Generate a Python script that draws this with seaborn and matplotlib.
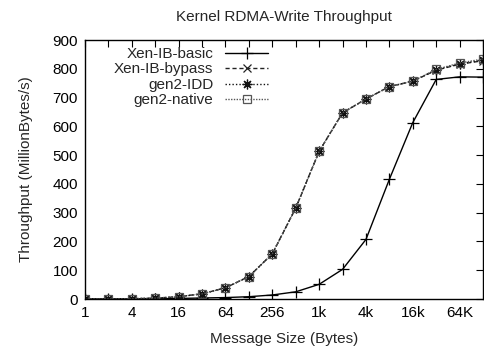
import matplotlib
matplotlib.use("Agg")
import matplotlib.pyplot as plt
import seaborn as sns
import pandas as pd
from matplotlib.ticker import FixedLocator, FixedFormatter, NullLocator

sizes = [1, 2, 4, 8, 16, 32, 64, 128, 256, 512, 1024, 2048, 4096, 8192,
         16384, 32768, 65536, 131072]
xen_ib_basic = [0.2, 0.3, 0.5, 1, 2, 3.5, 5, 8, 14, 25, 51, 103, 207, 416,
                613, 763, 772, 771]
xen_ib_bypass = [0.3, 0.5, 1, 3, 8, 18, 39, 78, 157, 316, 513, 647, 695, 738,
                 757, 795, 816, 828]
gen2_idd = [0.3, 0.5, 1, 3, 8, 18, 39, 78, 157, 316, 513, 647, 695, 738,
            757, 796, 817, 830]
gen2_native = [0.3, 0.5, 1, 3, 8, 18, 39, 78, 157, 316, 513, 647, 695, 738,
               757, 798, 820, 834]
series_names = ["Xen-IB-basic", "Xen-IB-bypass", "gen2-IDD", "gen2-native"]
xtick_labels = ["1", "", "4", "", "16", "", "64", "", "256", "", "1k", "",
                "4k", "", "16k", "", "64K", ""]
yticks = [0, 100, 200, 300, 400, 500, 600, 700, 800, 900]

df = pd.DataFrame({
    "size": sizes * 4,
    "value": xen_ib_basic + xen_ib_bypass + gen2_idd + gen2_native,
    "series": sum([[n] * len(sizes) for n in series_names], []),
})

sns.set_style("white")
plt.rcParams["font.family"] = ["Liberation Sans", "DejaVu Sans"]
plt.rcParams["font.size"] = 11

fig = plt.figure(figsize=(4.84, 3.47), dpi=100)
ax = fig.add_axes([0.1756, 0.1383, 0.8224, 0.7464])

styles = {
    "Xen-IB-basic": dict(color="black", ls="-", marker="+", ms=8, mfc="none", mew=0.9, lw=1.0),
    "Xen-IB-bypass": dict(color="#222222", ls=(0, (3, 2)), marker="x", ms=6, mfc="none", mew=0.9, lw=1.0),
    "gen2-IDD": dict(color="#111111", ls=(0, (1, 1.5)), marker=(8, 2, 0), ms=7, mfc="none", mew=0.9, lw=1.0),
    "gen2-native": dict(color="#555555", ls=(0, (1, 1)), marker="s", ms=6, mfc="none", mew=0.9, lw=1.0),
}
for name in series_names:
    st = styles[name]
    sns.lineplot(data=df[df["series"] == name], x="size", y="value", ax=ax,
                 color=st["color"], linestyle=st["ls"], marker=st["marker"],
                 markersize=st["ms"], markerfacecolor=st["mfc"],
                 markeredgecolor=st["color"], markeredgewidth=st["mew"],
                 linewidth=st["lw"], label=name)

ax.set_xscale("log", base=2)
ax.set_xlim(1, 131072)
ax.set_ylim(0, 900)
ax.xaxis.set_major_locator(FixedLocator(sizes))
ax.xaxis.set_major_formatter(FixedFormatter(xtick_labels))
ax.xaxis.set_minor_locator(NullLocator())
ax.set_yticks(yticks)
ax.tick_params(direction="in", length=5, width=0.8, top=True, right=True,
               labelsize=11, colors="black", pad=5)
for s in ax.spines.values():
    s.set_visible(True)
    s.set_color("black")
    s.set_linewidth(1.0)

ax.set_xlabel("Message Size (Bytes)", fontsize=11, labelpad=9)
ax.set_ylabel("Throughput (MillionBytes/s)", fontsize=11, labelpad=14)
ax.set_title("Kernel RDMA-Write Throughput", fontsize=11, pad=14)

leg = ax.legend(loc="upper left", frameon=False, markerfirst=False,
                handlelength=2.8, handletextpad=0.8, labelspacing=0.1,
                fontsize=11, borderaxespad=0.05, bbox_to_anchor=(0.055, 1.0))
try:
    for col in leg._legend_handle_box.get_children():
        col.align = "right"
except Exception:
    pass

fig.savefig("out.png", dpi=100)
